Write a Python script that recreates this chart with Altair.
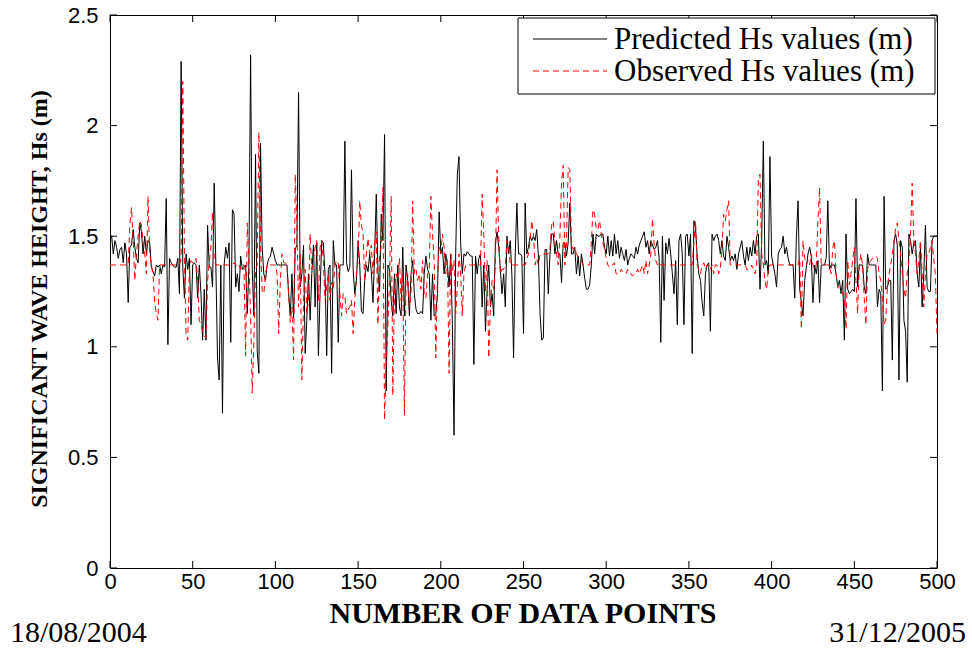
import altair as alt
import pandas as pd

# ---------------- data ----------------
x_ticks = [0, 50, 100, 150, 200, 250, 300, 350, 400, 450, 500]
y_ticks = [0, 0.5, 1, 1.5, 2, 2.5]

predicted = [
    1.50, 1.50, 1.42, 1.48, 1.45, 1.40, 1.44, 1.45, 1.38, 1.47,
    1.42, 1.20, 1.45, 1.46, 1.53, 1.45, 1.40, 1.38, 1.56, 1.52,
    1.42, 1.50, 1.42, 1.48, 1.47, 1.36, 1.34, 1.32, 1.37, 1.36,
    1.37, 1.33, 1.37, 1.36, 1.67, 1.01, 1.40, 1.38, 1.37, 1.36,
    1.36, 1.40, 1.24, 2.29, 1.36, 1.22, 1.42, 1.35, 1.40, 1.10,
    1.37, 1.38, 1.37, 1.22, 1.37, 1.24, 1.03, 1.26, 1.03, 1.55,
    1.36, 1.36, 1.27, 1.74, 1.37, 0.95, 0.85, 1.37, 0.70, 1.37,
    1.45, 1.40, 1.47, 1.02, 1.62, 1.60, 1.27, 1.33, 1.25, 1.41,
    1.35, 1.36, 1.37, 1.15, 1.37, 2.32, 1.35, 1.14, 1.87, 0.98,
    0.88, 1.92, 1.45, 1.33, 1.30, 1.37, 1.40, 1.41, 1.45, 1.42,
    1.39, 1.37, 1.37, 1.37, 1.37, 1.37, 1.37, 1.37, 1.24, 1.14,
    1.33, 1.13, 1.44, 1.46, 2.15, 1.27, 1.33, 1.46, 0.97, 1.12,
    1.33, 1.12, 1.33, 1.46, 1.18, 1.47, 0.96, 1.24, 1.48, 1.47,
    1.33, 0.96, 1.35, 1.37, 0.88, 1.48, 1.37, 1.37, 1.02, 1.37,
    1.37, 1.37, 1.93, 1.38, 1.34, 1.36, 1.80, 1.35, 1.24, 1.30,
    1.48, 1.37, 1.16, 1.15, 1.30, 1.37, 1.34, 1.42, 1.34, 1.20,
    1.42, 1.69, 1.34, 1.25, 1.60, 1.48, 1.96, 0.80, 1.37, 1.35,
    1.21, 1.14, 1.33, 1.15, 1.37, 1.18, 1.14, 1.45, 1.14, 1.37,
    1.30, 1.14, 1.33, 1.39, 1.24, 1.17, 1.15, 1.15, 1.16, 1.15,
    1.33, 1.41, 1.35, 1.33, 1.12, 1.33, 1.14, 1.15, 1.24, 1.61,
    1.42, 1.45, 1.33, 1.42, 1.37, 1.27, 1.42, 1.10, 0.60, 1.42,
    1.78, 1.86, 1.47, 1.33, 1.42, 1.41, 1.43, 1.42, 1.41, 1.41,
    0.92, 1.41, 1.33, 1.40, 1.42, 1.18, 1.37, 1.07, 1.26, 1.37,
    1.18, 1.24, 1.14, 1.47, 1.52, 1.45, 1.35, 1.24, 1.33, 1.18,
    1.50, 1.42, 1.48, 1.32, 0.95, 1.42, 1.65, 1.42, 1.42, 1.41,
    1.06, 1.65, 1.42, 1.45, 1.50, 1.48, 1.50, 1.48, 1.53, 1.41,
    1.15, 1.03, 1.04, 1.44, 1.44, 1.24, 1.42, 1.51, 1.51, 1.42,
    1.48, 1.42, 1.42, 1.29, 1.47, 1.47, 1.41, 1.47, 1.65, 1.42,
    1.42, 1.45, 1.33, 1.41, 1.32, 1.42, 1.37, 1.31, 1.26, 1.26,
    1.28, 1.37, 1.51, 1.42, 1.51, 1.50, 1.50, 1.51, 1.51, 1.45,
    1.42, 1.50, 1.41, 1.48, 1.41, 1.51, 1.42, 1.48, 1.40, 1.45,
    1.42, 1.39, 1.44, 1.37, 1.40, 1.42, 1.41, 1.40, 1.45, 1.42,
    1.46, 1.48, 1.50, 1.52, 1.45, 1.48, 1.42, 1.48, 1.46, 1.44,
    1.45, 1.48, 1.40, 1.02, 1.50, 1.21, 1.47, 1.42, 1.49, 1.42,
    1.33, 1.24, 1.39, 1.10, 1.48, 1.51, 1.42, 1.10, 1.50, 1.51,
    1.41, 1.51, 0.97, 1.57, 1.54, 1.41, 1.33, 1.30, 1.20, 1.14,
    1.33, 1.37, 1.38, 1.07, 1.51, 1.48, 1.50, 1.51, 1.48, 1.42,
    1.48, 1.41, 1.39, 1.50, 1.45, 1.39, 1.41, 1.39, 1.42, 1.35,
    1.42, 1.45, 1.48, 1.41, 1.37, 1.45, 1.39, 1.45, 1.41, 1.48,
    1.42, 1.50, 1.51, 1.26, 1.48, 1.93, 1.37, 1.39, 1.33, 1.86,
    1.41, 1.37, 1.33, 1.27, 1.42, 1.44, 1.45, 1.50, 1.42, 1.45,
    1.40, 1.37, 1.37, 1.37, 1.22, 1.50, 1.66, 1.26, 1.20, 1.14,
    1.30, 1.36, 1.42, 1.45, 1.41, 1.20, 1.37, 1.33, 1.39, 1.20,
    1.37, 1.37, 1.37, 1.40, 1.66, 1.35, 1.37, 1.37, 1.37, 1.33,
    1.27, 1.30, 1.24, 1.30, 1.03, 1.51, 1.26, 1.24, 1.25, 1.26,
    1.25, 1.67, 1.27, 1.37, 1.37, 1.37, 1.27, 1.24, 1.42, 1.37,
    1.37, 1.37, 1.37, 1.37, 1.18, 1.26, 1.24, 0.80, 1.68, 1.26,
    1.27, 1.30, 1.30, 0.94, 1.48, 1.51, 1.46, 0.85, 1.48, 1.45,
    1.12, 1.07, 0.84, 1.51, 1.48, 1.42, 1.47, 1.48, 1.33, 1.27,
    1.45, 1.18, 1.33, 1.55, 1.27, 1.25, 1.25, 1.48, 1.50, 1.50, 1.50,
]

observed = [
    1.37, 1.37, 1.37, 1.37, 1.37, 1.37, 1.37, 1.37, 1.37, 1.37,
    1.37, 1.37, 1.55, 1.63, 1.48, 1.30, 1.42, 1.50, 1.57, 1.55,
    1.47, 1.42, 1.33, 1.68, 1.42, 1.37, 1.33, 1.20, 1.15, 1.12,
    1.37, 1.37, 1.37, 1.37, 1.37, 1.37, 1.37, 1.37, 1.37, 1.37,
    1.37, 1.37, 1.37, 1.40, 2.20, 1.42, 1.05, 1.03, 1.35, 1.39,
    1.38, 1.38, 1.40, 1.30, 1.12, 1.10, 1.07, 1.05, 1.04, 1.30,
    1.38, 1.45, 1.61, 1.39, 1.37, 1.37, 1.37, 1.37, 1.37, 1.37,
    1.37, 1.37, 1.37, 1.37, 1.37, 1.38, 1.37, 1.36, 1.37, 1.35,
    1.37, 1.37, 0.96, 1.56, 1.37, 1.15, 0.79, 1.03, 1.35, 1.37,
    1.97, 1.47, 1.25, 1.24, 1.33, 1.37, 1.37, 1.37, 1.37, 1.37,
    1.37, 1.33, 1.06, 1.30, 1.42, 1.38, 1.38, 1.37, 1.24, 1.11,
    1.18, 0.94, 1.78, 1.55, 1.18, 1.42, 0.85, 1.21, 1.35, 1.15,
    1.21, 1.51, 1.35, 1.39, 1.45, 1.48, 1.21, 1.45, 1.48, 1.39,
    1.21, 1.27, 1.33, 1.21, 1.29, 1.26, 1.37, 1.39, 1.38, 1.24,
    1.14, 1.24, 1.23, 1.15, 1.17, 1.18, 1.21, 1.06, 1.21, 1.33,
    1.39, 1.66, 1.55, 1.51, 1.30, 1.42, 1.49, 1.42, 1.46, 1.33,
    1.47, 1.52, 1.10, 1.42, 1.45, 1.72, 0.67, 0.92, 1.09, 1.30,
    1.68, 0.78, 1.26, 1.33, 1.30, 1.40, 1.21, 1.33, 0.69, 1.32,
    1.33, 1.18, 1.23, 1.66, 1.33, 1.35, 1.30, 1.33, 1.26, 1.39,
    1.24, 1.22, 1.33, 1.35, 1.68, 1.51, 1.39, 0.95, 1.33, 1.45,
    1.42, 1.51, 1.45, 1.33, 1.40, 0.88, 1.42, 1.34, 1.39, 1.15,
    1.27, 1.42, 1.33, 1.14, 1.33, 1.37, 1.37, 1.37, 1.37, 1.37,
    1.37, 1.37, 1.37, 1.37, 1.37, 1.69, 1.51, 1.25, 1.39, 0.95,
    1.18, 1.30, 1.26, 1.37, 1.80, 1.50, 1.33, 1.35, 1.35, 1.37,
    1.48, 1.46, 1.37, 1.37, 1.37, 1.37, 1.37, 1.37, 1.37, 1.37,
    1.37, 1.37, 1.40, 1.42, 1.48, 1.57, 1.51, 1.37, 1.40, 1.37,
    1.42, 1.42, 1.42, 1.42, 1.42, 1.42, 1.44, 1.55, 1.57, 1.47,
    1.42, 1.37, 1.50, 1.74, 1.82, 1.37, 1.47, 1.81, 1.80, 1.47,
    1.44, 1.45, 1.42, 1.41, 1.40, 1.39, 1.37, 1.37, 1.37, 1.37,
    1.37, 1.47, 1.62, 1.60, 1.53, 1.53, 1.57, 1.51, 1.47, 1.44,
    1.40, 1.37, 1.36, 1.37, 1.37, 1.38, 1.33, 1.33, 1.33, 1.35,
    1.34, 1.33, 1.33, 1.35, 1.33, 1.33, 1.32, 1.33, 1.33, 1.35,
    1.33, 1.35, 1.37, 1.33, 1.39, 1.33, 1.37, 1.42, 1.58, 1.46,
    1.39, 1.37, 1.38, 1.37, 1.37, 1.37, 1.37, 1.37, 1.37, 1.37,
    1.37, 1.37, 1.37, 1.37, 1.37, 1.37, 1.37, 1.37, 1.37, 1.37,
    1.37, 1.37, 1.37, 1.47, 1.57, 1.37, 1.35, 1.33, 1.37, 1.38,
    1.35, 1.37, 1.37, 1.35, 1.37, 1.33, 1.37, 1.37, 1.33, 1.35,
    1.45, 1.60, 1.57, 1.62, 1.66, 1.37, 1.37, 1.37, 1.37, 1.37,
    1.37, 1.37, 1.37, 1.37, 1.37, 1.35, 1.35, 1.35, 1.37, 1.35,
    1.33, 1.37, 1.76, 1.78, 1.42, 1.37, 1.30, 1.26, 1.35, 1.37,
    1.37, 1.37, 1.37, 1.37, 1.37, 1.37, 1.37, 1.37, 1.37, 1.37,
    1.37, 1.37, 1.37, 1.37, 1.37, 1.37, 1.37, 1.40, 1.08, 1.48,
    1.40, 1.37, 1.39, 1.37, 1.42, 1.37, 1.35, 1.37, 1.57, 1.72,
    1.37, 1.37, 1.37, 1.37, 1.37, 1.37, 1.33, 1.45, 1.48, 1.33,
    1.27, 1.26, 1.26, 1.24, 1.22, 1.08, 1.39, 1.28, 1.33, 1.39,
    1.45, 1.30, 1.15, 1.37, 1.42, 1.37, 1.22, 1.10, 1.35, 1.38,
    1.39, 1.40, 1.40, 1.41, 1.40, 1.33, 1.30, 1.21, 1.10, 1.12,
    1.27, 1.33, 1.37, 1.42, 1.47, 1.54, 1.56, 1.48, 1.42, 1.33,
    1.26, 1.22, 1.33, 1.39, 1.51, 1.74, 1.48, 1.42, 1.33, 1.39,
    1.48, 1.33, 1.18, 1.33, 1.42, 1.42, 1.45, 1.48, 1.40, 1.33, 1.06,
]

legend_labels = ["Predicted Hs values (m)", "Observed Hs values (m)"]
x_title = "NUMBER OF DATA POINTS"
y_title = "SIGNIFICANT WAVE HEIGHT, Hs (m)"
start_date = "18/08/2004"
end_date = "31/12/2005"

# ---------------- layout ----------------
W, H = 827, 553
SERIF = "Liberation Serif"
SANS = "Liberation Sans"

pred_df = pd.DataFrame({"x": list(range(len(predicted))), "y": predicted})
obs_df = pd.DataFrame({"x": list(range(len(observed))), "y": observed})
xt_df = pd.DataFrame({"x": x_ticks})
yt_df = pd.DataFrame({"y": y_ticks})
one = pd.DataFrame({"d": [0]})

x_scale = alt.Scale(domain=[0, 500], nice=False, zero=False)
y_scale = alt.Scale(domain=[0, 2.5], nice=False, zero=False)
x_axis = alt.Axis(values=x_ticks, title=None, grid=False, ticks=False, domain=False,
                  labelFont=SANS, labelFontSize=22, labelPadding=3, labelColor="black",
                  labelFlush=False)
y_axis = alt.Axis(values=y_ticks, title=None, grid=False, ticks=False, domain=False,
                  labelFont=SANS, labelFontSize=22, labelPadding=12, labelColor="black",
                  format="~g", labelFlush=False)

X = alt.X("x:Q", scale=x_scale, axis=x_axis)
Y = alt.Y("y:Q", scale=y_scale, axis=y_axis)

pred_line = alt.Chart(pred_df).mark_line(color="black", strokeWidth=1).encode(x=X, y=Y)
obs_line = alt.Chart(obs_df).mark_line(color="#ff0000", strokeWidth=1,
                                        strokeDash=[6, 4]).encode(x=X, y=Y)

TL = 7
xt_bottom = alt.Chart(xt_df).mark_rule(color="black", strokeWidth=1).encode(
    x=X, y=alt.value(H), y2=alt.value(H - TL))
xt_top = alt.Chart(xt_df).mark_rule(color="black", strokeWidth=1).encode(
    x=X, y=alt.value(0), y2=alt.value(TL))
yt_left = alt.Chart(yt_df).mark_rule(color="black", strokeWidth=1).encode(
    y=Y, x=alt.value(0), x2=alt.value(TL))
yt_right = alt.Chart(yt_df).mark_rule(color="black", strokeWidth=1).encode(
    y=Y, x=alt.value(W), x2=alt.value(W - TL))

# legend (box, samples, labels)
leg_box = alt.Chart(one).mark_rect(fill="white", stroke="black", strokeWidth=1).encode(
    x=alt.value(408), x2=alt.value(825), y=alt.value(3), y2=alt.value(79))
leg_pred = alt.Chart(one).mark_rule(color="black", strokeWidth=1).encode(
    x=alt.value(423), x2=alt.value(497), y=alt.value(24))
leg_obs = alt.Chart(one).mark_rule(color="#ff0000", strokeWidth=1, strokeDash=[6, 4]).encode(
    x=alt.value(423), x2=alt.value(497), y=alt.value(56))
leg_t1 = alt.Chart(one).mark_text(text=legend_labels[0], font=SERIF, fontSize=31,
                                  align="left", baseline="middle", color="black").encode(
    x=alt.value(504), y=alt.value(25))
leg_t2 = alt.Chart(one).mark_text(text=legend_labels[1], font=SERIF, fontSize=31,
                                  align="left", baseline="middle", color="black").encode(
    x=alt.value(504), y=alt.value(57))

# titles and dates
xt_text = alt.Chart(one).mark_text(text=x_title, font=SERIF, fontSize=30, fontWeight="bold",
                                   align="center", baseline="middle", color="black").encode(
    x=alt.value(413), y=alt.value(599))
yt_text = alt.Chart(one).mark_text(text=y_title, font=SERIF, fontSize=24, fontWeight="bold",
                                   align="center", baseline="middle", angle=270,
                                   color="black").encode(
    x=alt.value(-70), y=alt.value(284))
d1 = alt.Chart(one).mark_text(text=start_date, font=SERIF, fontSize=30, align="left",
                              baseline="middle", color="black").encode(
    x=alt.value(-100), y=alt.value(618))
d2 = alt.Chart(one).mark_text(text=end_date, font=SERIF, fontSize=30, align="right",
                              baseline="middle", color="black").encode(
    x=alt.value(856), y=alt.value(618))

chart = alt.layer(
    pred_line, obs_line, xt_bottom, xt_top, yt_left, yt_right,
    leg_box, leg_pred, leg_obs, leg_t1, leg_t2, xt_text, yt_text, d1, d2,
).properties(
    width=W, height=H,
    autosize=alt.AutoSizeParams(type="none"),
    padding={"left": 110, "top": 15, "right": 35, "bottom": 82},
    background="white",
).configure_view(stroke="black", strokeWidth=1)

chart.save("out.html", embed_options={"renderer": "svg", "actions": False})
